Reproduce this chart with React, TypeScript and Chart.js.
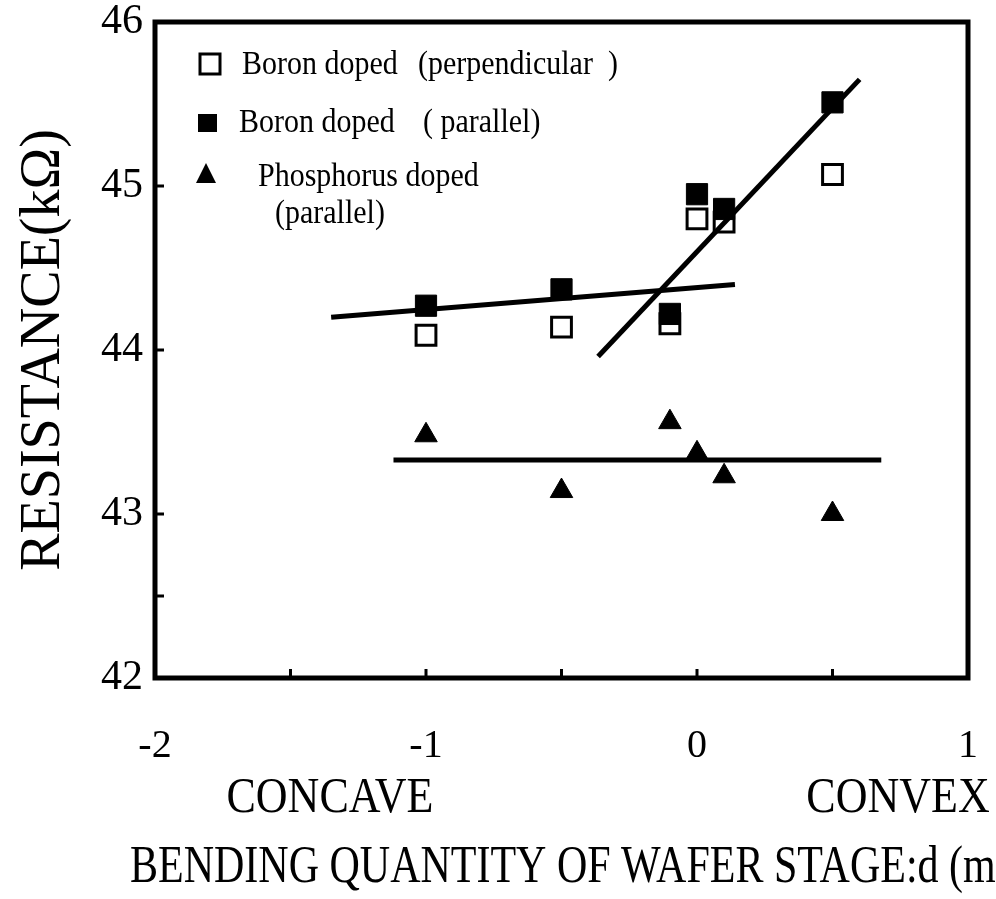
import React, { useEffect, useRef } from "react";
import { Chart, registerables } from "chart.js";

Chart.register(...registerables);

// ---- data ----
const bendX = [-1, -0.5, -0.1, 0, 0.1, 0.5];
const boronPerp = [44.09, 44.14, 44.16, 44.8, 44.78, 45.07];
const boronPar = [44.27, 44.37, 44.22, 44.95, 44.86, 45.51];
const phosPar = [43.48, 43.14, 43.56, 43.37, 43.23, 43.0];

const fitBoronFlatX = [-1.35, 0.14];
const fitBoronFlatY = [44.2, 44.4];
const fitBoronSteepX = [-0.365, 0.6];
const fitBoronSteepY = [43.96, 45.65];
const fitPhosX = [-1.12, 0.68];
const fitPhosY = [43.33, 43.33];

const xTickMarks = [-1.5, -1, -0.5, 0, 0.5];
const yTickMarks = [42.5, 43, 44, 45];

const legendLabels = [
  ["Boron doped", "(perpendicular  )"],
  ["Boron doped", "( parallel)"],
  ["Phosphorus doped", "(parallel)"],
];
const xSideLabels = ["CONCAVE", "CONVEX"];
const xTitle = "BENDING QUANTITY OF WAFER STAGE:d (mm)";
const yTitle = "RESISTANCE(k\u03A9)";

const SERIF = "'Liberation Serif', 'Times New Roman', serif";

const pts = (xs: number[], ys: number[]) => xs.map((x, i) => ({ x, y: ys[i] }));

function tallText(ctx: CanvasRenderingContext2D, text: string, x: number, y: number, sy: number) {
  ctx.save();
  ctx.translate(x, y);
  ctx.scale(1, sy);
  ctx.fillText(text, 0, 0);
  ctx.restore();
}

const decorPlugin = {
  id: "decor",
  afterDraw(chart: any) {
    const { ctx, chartArea: a, scales } = chart;
    const xs = scales.x;
    const ys = scales.y;
    ctx.save();
    // frame
    ctx.strokeStyle = "#000";
    ctx.lineWidth = 5;
    ctx.strokeRect(a.left, a.top, a.right - a.left, a.bottom - a.top);
    // inward tick marks
    ctx.lineWidth = 3;
    ctx.beginPath();
    xTickMarks.forEach((v) => {
      const px = xs.getPixelForValue(v);
      ctx.moveTo(px, a.bottom);
      ctx.lineTo(px, a.bottom - 9);
    });
    yTickMarks.forEach((v) => {
      const py = ys.getPixelForValue(v);
      ctx.moveTo(a.left, py);
      ctx.lineTo(a.left + 9, py);
    });
    ctx.stroke();

    // legend
    ctx.fillStyle = "#000";
    ctx.font = `30px ${SERIF}`;
    ctx.textBaseline = "middle";
    ctx.textAlign = "left";
    // row 1: open square
    ctx.lineWidth = 3;
    ctx.strokeRect(200, 54, 20, 20);
    tallText(ctx, legendLabels[0][0], 242, 65, 1.1);
    tallText(ctx, legendLabels[0][1], 418, 65, 1.1);
    // row 2: filled square
    ctx.fillRect(198, 114, 19, 18);
    tallText(ctx, legendLabels[1][0], 239, 123, 1.1);
    tallText(ctx, legendLabels[1][1], 423, 123, 1.1);
    // row 3: triangle
    ctx.beginPath();
    ctx.moveTo(206, 163);
    ctx.lineTo(216, 183);
    ctx.lineTo(196, 183);
    ctx.closePath();
    ctx.fill();
    tallText(ctx, legendLabels[2][0], 258, 177, 1.1);
    tallText(ctx, legendLabels[2][1], 275, 214, 1.1);

    // under-axis annotations
    ctx.font = `44px ${SERIF}`;
    ctx.textAlign = "center";
    tallText(ctx, xSideLabels[0], 330, 799, 1.15);
    tallText(ctx, xSideLabels[1], 898, 799, 1.15);
    ctx.font = `42px ${SERIF}`;
    ctx.textAlign = "left";
    tallText(ctx, xTitle, 130, 868, 1.25);
    ctx.restore();
  },
};

export default function App() {
  const ref = useRef<HTMLCanvasElement | null>(null);
  useEffect(() => {
    if (!ref.current) return;
    const squareCommon = {
      type: "scatter" as const,
      pointStyle: "rect",
      showLine: false,
    };
    const lineCommon = {
      type: "line" as const,
      pointRadius: 0,
      borderColor: "#000",
      borderWidth: 5,
      borderCapStyle: "butt",
      fill: false,
      showLine: true,
    };
    const chart = new Chart(ref.current, {
      type: "scatter",
      data: {
        datasets: [
          { ...lineCommon, label: "fit1", data: pts(fitBoronFlatX, fitBoronFlatY) },
          { ...lineCommon, label: "fit2", data: pts(fitBoronSteepX, fitBoronSteepY) },
          { ...lineCommon, label: "fit3", data: pts(fitPhosX, fitPhosY) },
          {
            ...squareCommon,
            label: "Boron doped (parallel)",
            data: pts(bendX, boronPar),
            pointRadius: 15,
            backgroundColor: "#000",
            borderColor: "#000",
            borderWidth: 1,
          },
          {
            ...squareCommon,
            label: "Boron doped (perpendicular)",
            data: pts(bendX, boronPerp),
            pointRadius: 14,
            backgroundColor: "#fff",
            borderColor: "#000",
            borderWidth: 3,
          },
          {
            type: "scatter",
            label: "Phosphorus doped (parallel)",
            data: pts(bendX, phosPar),
            pointStyle: "triangle",
            pointRadius: 13,
            backgroundColor: "#000",
            borderColor: "#000",
            borderWidth: 1,
            showLine: false,
          },
        ] as any,
      },
      options: {
        responsive: false,
        animation: false,
        events: [],
        layout: { padding: { top: 22, right: 28, left: 0, bottom: 0 } },
        plugins: {
          legend: { display: false },
          tooltip: { enabled: false },
        },
        scales: {
          x: {
            type: "linear",
            min: -2,
            max: 1,
            grid: { display: false, drawTicks: false },
            border: { display: false },
            ticks: {
              stepSize: 1,
              color: "#000",
              font: { family: SERIF, size: 40 },
              padding: 44,
              maxRotation: 0,
            },
            afterFit(scale: any) {
              scale.height = 221;
              scale.paddingLeft = 0;
              scale.paddingRight = 0;
            },
          },
          y: {
            type: "linear",
            min: 42,
            max: 46,
            grid: { display: false, drawTicks: false },
            border: { display: false },
            ticks: {
              stepSize: 1,
              color: "#000",
              font: { family: SERIF, size: 42 },
              padding: 12,
            },
            title: {
              display: true,
              text: yTitle,
              color: "#000",
              font: { family: SERIF, size: 56, weight: "normal" },
              padding: { top: 11, bottom: 0 },
            },
            afterFit(scale: any) {
              scale.width = 155;
              scale.paddingTop = 0;
              scale.paddingBottom = 0;
            },
          },
        },
      } as any,
      plugins: [decorPlugin],
    });
    return () => chart.destroy();
  }, []);
  return (
    <div style={{ position: "fixed", left: 0, top: 0, width: 996, height: 899, background: "#fff" }}>
      <canvas ref={ref} width={996} height={899} style={{ display: "block" }} />
    </div>
  );
}
